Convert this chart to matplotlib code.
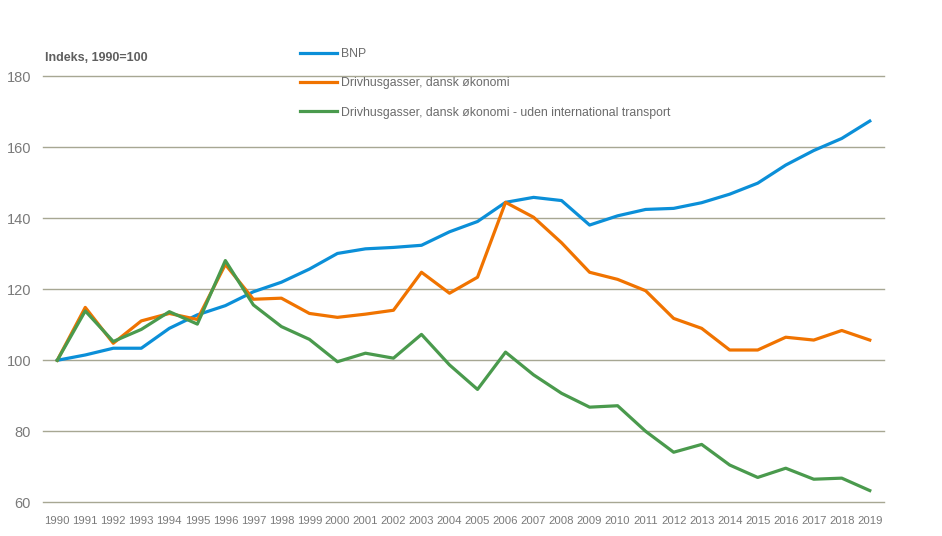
import matplotlib
matplotlib.use("Agg")
import matplotlib.pyplot as plt
from matplotlib import font_manager

years = list(range(1990, 2020))

bnp = [100, 101.5, 103.4, 103.4, 109.0, 112.8, 115.4, 119.3, 122.0, 125.7,
       130.1, 131.4, 131.8, 132.4, 136.2, 139.1, 144.5, 145.9, 145.0, 138.1,
       140.7, 142.5, 142.8, 144.4, 146.8, 149.9, 155.0, 159.1, 162.5, 167.4]

ghg_total = [100, 114.9, 104.8, 111.1, 113.2, 111.5, 127.0, 117.2, 117.5, 113.2,
             112.1, 113.0, 114.1, 124.8, 118.9, 123.4, 144.5, 140.3, 133.1, 124.8,
             122.8, 119.6, 111.8, 109.0, 102.9, 102.9, 106.5, 105.7, 108.4, 105.7]

ghg_excl = [100, 113.9, 105.3, 108.7, 113.7, 110.2, 128.1, 115.6, 109.5, 105.9,
            99.6, 102.0, 100.6, 107.3, 98.7, 91.8, 102.3, 95.9, 90.7, 86.8,
            87.2, 80.0, 74.1, 76.3, 70.5, 67.0, 69.6, 66.5, 66.8, 63.3]

labels = ["BNP",
          "Drivhusgasser, dansk økonomi",
          "Drivhusgasser, dansk økonomi - uden international transport"]
colors = ["#0b8fd8", "#f07300", "#4a9a4d"]
yticks = [60, 80, 100, 120, 140, 160, 180]

# narrow font if it exists, else normal Liberation Sans
installed = {f.name for f in font_manager.fontManager.ttflist}
fam = "Liberation Sans Narrow" if "Liberation Sans Narrow" in installed else "Liberation Sans"
plt.rcParams["font.family"] = [fam, "DejaVu Sans"]

fig = plt.figure(figsize=(9.42, 5.36), dpi=100)
ax = fig.add_axes([0.0453, 0.0629, 0.8935, 0.7947])

x = list(range(len(years)))
for series, lab, col in zip([bnp, ghg_total, ghg_excl], labels, colors):
    ax.plot(x, series, color=col, lw=2.3, label=lab, zorder=3)

ax.set_xlim(-0.52, len(years) - 0.48)
ax.set_ylim(60, 180)
ax.set_yticks(yticks)
ax.set_xticks(x)
ax.set_xticklabels([str(y) for y in years])
# horizontal gridlines, drawn unclipped so the 60 and 180 lines show fully
for v in yticks:
    ax.axhline(v, color="#a7a793", lw=1.0, zorder=1, clip_on=False)
for s in ax.spines.values():
    s.set_visible(False)
ax.tick_params(axis="both", length=0, colors="#7a7a7a")
ax.tick_params(axis="y", labelsize=10.5, pad=8.4)
ax.tick_params(axis="x", labelsize=8.2, pad=10)

fig.text(0.048, 0.892, "Indeks, 1990=100", fontsize=9, fontweight="bold",
         color="#5f5f5f", va="center")

leg = ax.legend(loc="upper left", bbox_to_anchor=(0.3135, 0.919),
                bbox_transform=fig.transFigure, frameon=False,
                fontsize=8.8, handlelength=3.05, handletextpad=0.25,
                labelspacing=1.4, borderaxespad=0)
for t in leg.get_texts():
    t.set_color("#6b6b6b")

fig.savefig("out.png", dpi=100)
